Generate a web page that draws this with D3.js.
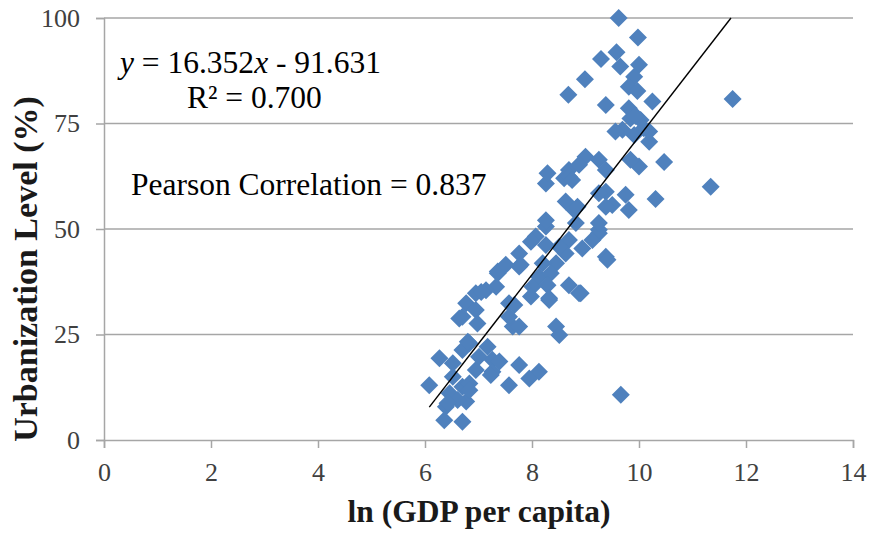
<!DOCTYPE html>
<html><head><meta charset="utf-8">
<script src="https://cdn.jsdelivr.net/npm/d3@7"></script>
<style>body{margin:0;background:#fff}svg{display:block} text{font-family:"Liberation Serif","DejaVu Serif",serif !important;}</style>
</head><body>
<svg id="c" width="874" height="534"></svg>
<script>
const lnGdp = [9.62,9.98,9.29,9.58,9.65,10.0,8.99,9.91,9.81,9.97,8.68,9.38,10.25,9.81,9.84,10.03,9.69,10.19,9.91,11.75,11.34,
10.47,10.31,10.0,9.84,9.75,9.81,9.50,9.38,10.19,10.09,9.56,8.69,9.0,9.25,9.38,8.60,8.88,8.63,8.79,8.82,9.25,9.13,8.69,8.63,9.38,8.94,
8.26,8.29,8.69,8.85,8.26,8.07,7.98,8.26,7.76,7.79,8.51,8.45,8.2,8.13,8.35,8.01,8.29,8.69,8.88,8.32,7.36,7.33,6.95,7.14,6.77,7.57,7.98,9.38,9.25,
9.25,9.41,7.76,7.36,7.05,6.64,6.95,6.98,7.67,7.64,7.57,7.76,8.45,8.51,8.91,8.32,6.83,7.17,7.26,7.01,6.27,6.52,6.08,6.52,6.70,6.77,6.39,6.36,6.70,
7.57,7.76,7.95,8.13,9.66,7.26,7.39,6.46,6.61,6.95,6.83,6.70,7.51,6.70,6.80,7.23,6.42,6.83,8.75,8.26,9.25,9.94];
const urban = [100,95.4,90.3,91.9,88.5,88.9,85.5,86.1,83.7,82.7,81.8,79.4,80.2,78.6,76.2,75.8,73.5,73.1,72.3,80.8,60.0,
65.9,57.1,64.8,66.4,58.1,54.5,55.7,58.8,70.7,73.9,73.1,64.0,67.1,66.4,64.0,62.0,65.2,56.5,54.5,51.4,49.0,47.4,47.4,44.2,43.4,45.4,
60.8,63.2,62.4,55.3,50.6,48.2,47.0,46.2,44.2,41.5,45.8,41.9,41.9,38.7,39.5,36.3,36.7,36.7,34.8,33.6,39.5,36.3,34.8,35.5,32.4,32.4,34.0,55.3,58.5,
49.8,42.7,41.1,39.9,35.1,28.8,30.8,27.6,32.0,26.9,29.2,26.9,26.9,24.9,34.8,33.2,22.9,22.1,19.0,19.7,19.4,18.2,13.0,15.0,12.6,9.1,7.9,4.7,4.3,
13.0,17.8,14.6,16.2,10.7,16.2,18.6,11.1,9.5,16.6,13.4,21.3,41.5,29.2,23.3,15.4,8.7,11.8,61.6,52.1,51.4,76.8];
const xTicks = [0,2,4,6,8,10,12,14];
const yTicks = [0,25,50,75,100];
const slope = 16.352, intercept = -91.631;

const svg = d3.select("#c");
const x = d3.scaleLinear().domain([0,14]).range([104,853]);
const y = d3.scaleLinear().domain([0,100]).range([440,18]);
const grid = "#a6a6a6";

svg.append("g").selectAll("line").data(yTicks.filter(d=>d>0)).join("line")
  .attr("x1",x(0)).attr("x2",x(14)).attr("y1",d=>y(d)).attr("y2",d=>y(d))
  .attr("stroke",grid).attr("stroke-width",1.5);

const yAxis = svg.append("g").attr("transform",`translate(${x(0)},0)`)
  .call(d3.axisLeft(y).tickValues(yTicks).tickSize(8).tickPadding(16));
const xAxis = svg.append("g").attr("transform",`translate(0,${y(0)})`)
  .call(d3.axisBottom(x).tickValues(xTicks).tickSize(8).tickPadding(12));
[yAxis,xAxis].forEach(g=>{
  g.select(".domain").attr("stroke",grid).attr("stroke-width",1.5);
  g.selectAll(".tick line").attr("stroke",grid).attr("stroke-width",1.5);
  g.selectAll(".tick text").attr("font-size",26).attr("fill","#404040");
});
xAxis.selectAll(".tick text").attr("y",41).attr("dy",0);

const h = 9;
svg.append("g").selectAll("path").data(lnGdp.map((v,i)=>[v,urban[i]])).join("path")
  .attr("d",d=>{const cx=x(d[0]),cy=y(d[1]);return `M${cx},${cy-h}L${cx+h},${cy}L${cx},${cy+h}L${cx-h},${cy}Z`;})
  .attr("fill","#4f81bd");

const xe = d3.extent(lnGdp);
const x1 = xe[0], x2 = Math.min(xe[1], (100-intercept)/slope);
svg.append("line").attr("x1",x(x1)).attr("y1",y(slope*x1+intercept))
  .attr("x2",x(x2)).attr("y2",y(slope*x2+intercept))
  .attr("stroke","#000").attr("stroke-width",1.4);

const t1 = svg.append("text").attr("x",120).attr("y",73).attr("font-size",31.5).attr("fill","#000");
t1.append("tspan").attr("font-style","italic").text("y");
t1.append("tspan").text(" = 16.352");
t1.append("tspan").attr("font-style","italic").text("x");
t1.append("tspan").text(" - 91.631");
svg.append("text").attr("x",187).attr("y",108).attr("font-size",31.5).text("R² = 0.700");
svg.append("text").attr("x",131).attr("y",195).attr("font-size",31.5).text("Pearson Correlation = 0.837");

svg.append("text").attr("x",479).attr("y",522).attr("text-anchor","middle")
  .attr("font-size",31.5).attr("font-weight","bold").attr("fill","#1a1a1a").text("ln (GDP per capita)");
svg.append("text").attr("transform","translate(37,269) rotate(-90)").attr("text-anchor","middle")
  .attr("font-size",34).attr("font-weight","bold").attr("fill","#1a1a1a").text("Urbanization Level (%)");
</script>
</body></html>
